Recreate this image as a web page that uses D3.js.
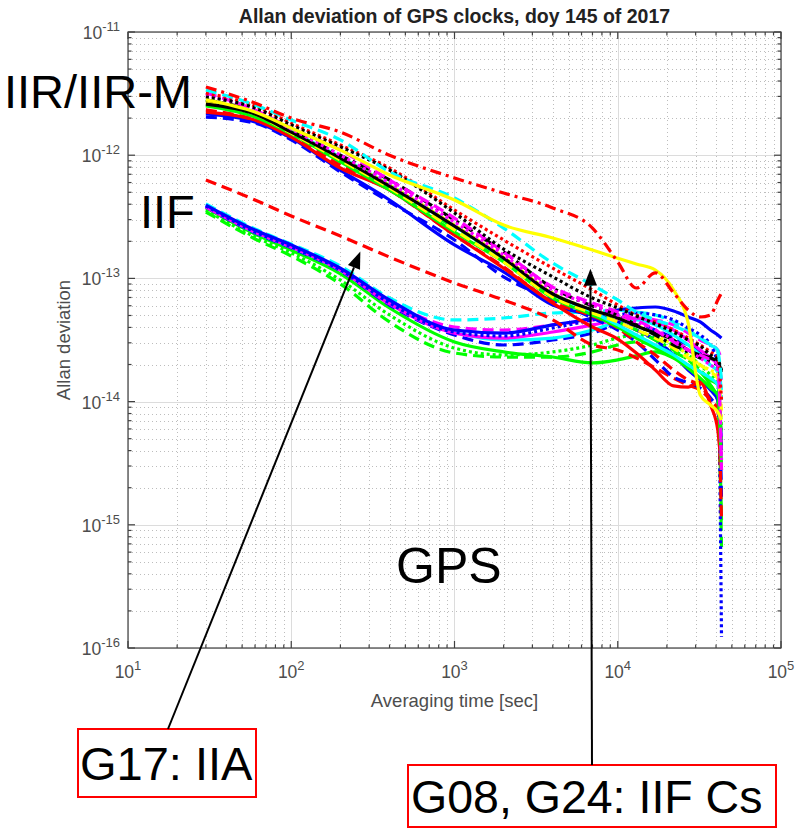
<!DOCTYPE html>
<html>
<head>
<meta charset="utf-8">
<script src="https://cdn.jsdelivr.net/npm/d3@7"></script>
<style>
  body { margin: 0; background: #fff; }
  text { font-family: Arial, "Liberation Sans", sans-serif; }
</style>
</head>
<body>
<div id="chart"></div>
<script>
// Averaging times [sec] shared by every clock curve
var taus = [30, 60, 100, 200, 400, 1000, 2000, 4000, 7000, 10000, 13000, 17000, 22000, 27000, 32000, 37000, 41000, 43200];

// Axis ticks
var xDecades = [1e1, 1e2, 1e3, 1e4, 1e5];
var yDecades = [1e-16, 1e-15, 1e-14, 1e-13, 1e-12, 1e-11];

// --- IIF rubidium clocks (lower bundle) ---
var iifBlue      = [3.94e-13,2.47e-13,1.87e-13,1.21e-13,6.68e-14,3.81e-14,3.60e-14,4.19e-14,4.77e-14,5.54e-14,5.75e-14,5.86e-14,5.44e-14,4.86e-14,4.43e-14,3.81e-14,3.47e-14,3.28e-14];
var iifCyanDash  = [4.02e-13,2.52e-13,1.90e-13,1.26e-13,6.93e-14,4.60e-14,4.77e-14,5.24e-14,5.34e-14,5.54e-14,5.34e-14,5.05e-14,4.43e-14,3.81e-14,3.28e-14,2.88e-14,2.62e-14,1.03e-14];
var iifMagDash   = [3.87e-13,2.42e-13,1.83e-13,1.21e-13,6.56e-14,4.03e-14,3.81e-14,4.19e-14,4.60e-14,4.77e-14,4.77e-14,4.60e-14,4.19e-14,3.60e-14,3.16e-14,2.88e-14,2.62e-14,2.18e-14];
var iifBlueDash  = [3.80e-13,2.34e-13,1.77e-13,1.15e-13,6.08e-14,3.47e-14,2.88e-14,3.16e-14,3.60e-14,4.19e-14,4.19e-14,3.81e-14,3.28e-14,2.88e-14,2.53e-14,2.26e-14,2.10e-14,1.59e-15];
var iifGreen     = [3.73e-13,2.29e-13,1.70e-13,1.09e-13,5.75e-14,3.05e-14,2.53e-14,2.30e-14,2.06e-14,2.18e-14,2.35e-14,2.53e-14,2.26e-14,1.98e-14,1.74e-14,1.36e-14,1.03e-14,1.09e-15];
var iifGreenDash = [3.46e-13,2.09e-13,1.52e-13,9.01e-14,4.43e-14,2.48e-14,2.30e-14,2.30e-14,2.53e-14,2.88e-14,3.05e-14,2.88e-14,2.53e-14,2.18e-14,1.80e-14,1.36e-14,1.03e-14,6.60e-16];
var iifCyan      = [3.87e-13,2.38e-13,1.80e-13,1.17e-13,6.31e-14,3.67e-14,3.16e-14,3.28e-14,3.81e-14,4.43e-14,4.60e-14,4.19e-14,3.47e-14,2.88e-14,2.39e-14,1.98e-14,1.74e-14,1.24e-14];
var iifGreenDot  = [3.59e-13,2.17e-13,1.61e-13,9.70e-14,5.05e-14,2.72e-14,2.39e-14,2.53e-14,2.88e-14,3.28e-14,3.47e-14,3.28e-14,2.88e-14,2.39e-14,1.98e-14,1.64e-14,1.36e-14,5.88e-15];
var iifMagenta   = [3.80e-13,2.38e-13,1.80e-13,1.17e-13,6.20e-14,3.60e-14,3.28e-14,3.67e-14,4.19e-14,4.60e-14,4.77e-14,4.43e-14,3.81e-14,3.16e-14,2.62e-14,2.26e-14,1.98e-14,1.50e-14];
var iifBlueDot   = [3.87e-13,2.38e-13,1.80e-13,1.17e-13,6.31e-14,3.67e-14,3.41e-14,3.96e-14,4.60e-14,5.05e-14,5.24e-14,5.05e-14,4.60e-14,3.96e-14,3.47e-14,2.88e-14,1.98e-14,1.23e-16];

// --- G17, IIA ---
var g17 = [6.29e-13,4.33e-13,3.21e-13,2.21e-13,1.49e-13,9.18e-14,6.68e-14,4.60e-14,2.88e-14,2.62e-14,2.26e-14,1.87e-14,1.55e-14,1.36e-14,1.24e-14,1.03e-14,8.54e-15,4.05e-15];

// --- IIR / IIR-M rubidium clocks (upper bundle) ---
var iirCyanDash  = [3.38e-12,2.56e-12,1.93e-12,1.33e-12,7.31e-13,4.49e-13,2.56e-13,1.33e-13,8.84e-14,6.68e-14,5.34e-14,4.60e-14,4.11e-14,3.67e-14,3.28e-14,2.88e-14,2.53e-14,1.50e-14];
var iirBlackDot  = [2.97e-12,2.42e-12,1.76e-12,1.17e-12,7.58e-13,3.40e-13,1.73e-13,1.03e-13,6.93e-14,5.75e-14,4.95e-14,4.27e-14,3.67e-14,3.16e-14,2.83e-14,2.39e-14,2.18e-14,1.80e-14];
var iirRedDot    = [3.20e-12,2.51e-12,1.82e-12,1.21e-12,7.87e-13,3.59e-13,2.05e-13,1.21e-13,8.05e-14,6.08e-14,5.05e-14,4.43e-14,3.81e-14,3.28e-14,2.88e-14,2.53e-14,2.26e-14,1.03e-14];
var iirMagDash   = [3.20e-12,2.33e-12,1.66e-12,1.10e-12,6.29e-13,3.09e-13,1.64e-13,8.51e-14,6.31e-14,5.34e-14,4.60e-14,3.81e-14,3.05e-14,2.62e-14,2.39e-14,2.18e-14,1.98e-14,2.79e-15];
var iirYellowDot = [2.65e-12,2.20e-12,1.54e-12,9.49e-13,5.73e-13,2.71e-13,1.49e-13,7.61e-14,5.54e-14,4.77e-14,4.19e-14,3.47e-14,2.88e-14,2.39e-14,1.98e-14,1.80e-14,1.64e-14,7.09e-15];
var iirGreenDD   = [2.56e-12,2.12e-12,1.51e-12,9.14e-13,5.52e-13,2.56e-13,1.41e-13,7.33e-14,5.34e-14,4.43e-14,3.81e-14,3.16e-14,2.62e-14,2.18e-14,1.80e-14,1.50e-14,1.36e-14,4.88e-15];
var iirBlackDD   = [2.81e-12,2.24e-12,1.60e-12,1.00e-12,6.29e-13,2.98e-13,1.64e-13,8.36e-14,5.97e-14,5.05e-14,4.19e-14,3.47e-14,2.88e-14,2.53e-14,2.26e-14,2.10e-14,1.98e-14,1.64e-14];
var iirYellowDash= [2.75e-12,2.16e-12,1.51e-12,9.14e-13,5.42e-13,2.47e-13,1.36e-13,7.06e-14,5.24e-14,4.43e-14,3.81e-14,3.28e-14,2.72e-14,2.26e-14,1.98e-14,1.74e-14,1.55e-14,8.54e-15];
var iirCyan      = [2.81e-12,2.20e-12,1.57e-12,9.67e-13,5.73e-13,2.66e-13,1.46e-13,7.47e-14,5.34e-14,4.19e-14,3.47e-14,2.88e-14,2.39e-14,1.98e-14,1.74e-14,1.55e-14,1.36e-14,1.03e-14];
var iirMagDot    = [3.08e-12,2.33e-12,1.63e-12,1.00e-12,5.95e-13,2.87e-13,1.55e-13,8.05e-14,6.08e-14,5.05e-14,4.43e-14,3.81e-14,3.16e-14,2.62e-14,2.26e-14,1.98e-14,1.80e-14,3.36e-15];
var iirRed       = [2.24e-12,1.93e-12,1.40e-12,7.87e-13,5.22e-13,2.25e-13,1.21e-13,6.31e-14,4.03e-14,3.22e-14,2.48e-14,1.80e-14,1.34e-14,1.31e-14,1.44e-14,9.38e-15,5.88e-15,2.79e-15];
var iirBlueDash  = [2.04e-12,1.82e-12,1.33e-12,7.31e-13,4.17e-13,2.05e-13,1.03e-13,6.68e-14,4.77e-14,3.81e-14,3.05e-14,2.18e-14,1.58e-14,1.42e-14,1.29e-14,1.07e-14,8.54e-15,4.05e-15];
var iirRedDash   = [2.33e-12,1.93e-12,1.43e-12,8.33e-13,5.22e-13,2.25e-13,1.24e-13,6.43e-14,4.95e-14,3.96e-14,3.05e-14,2.39e-14,1.80e-14,1.50e-14,1.36e-14,1.03e-14,8.54e-15,1.09e-15];
var iirGreen     = [2.51e-12,2.04e-12,1.49e-12,8.81e-13,5.22e-13,2.38e-13,1.36e-13,6.93e-14,5.05e-14,4.03e-14,3.28e-14,2.72e-14,2.26e-14,1.87e-14,1.55e-14,1.29e-14,1.13e-14,2.79e-15];
var iirBlue      = [2.16e-12,1.86e-12,1.38e-12,7.58e-13,4.33e-13,1.87e-13,1.13e-13,6.08e-14,5.05e-14,4.43e-14,3.81e-14,3.16e-14,2.39e-14,1.80e-14,1.50e-14,1.24e-14,1.03e-14,4.88e-15];
var iirBlack     = [2.60e-12,2.16e-12,1.54e-12,9.49e-13,5.62e-13,2.66e-13,1.46e-13,7.47e-14,5.54e-14,4.77e-14,4.11e-14,3.60e-14,3.16e-14,2.62e-14,2.39e-14,2.26e-14,2.10e-14,1.74e-14];

// --- IIF cesium clocks G08, G24 ---
var g08 = [3.58e-12,2.65e-12,2.00e-12,1.54e-12,1.00e-12,6.53e-13,4.93e-13,3.73e-13,2.56e-13,1.36e-13,8.36e-14,1.11e-13,7.61e-14,5.54e-14,4.86e-14,5.05e-14,6.68e-14,7.61e-14];
var g24 = [2.81e-12,2.24e-12,1.66e-12,1.10e-12,6.91e-13,4.33e-13,2.71e-13,2.13e-13,1.70e-13,1.46e-13,1.31e-13,1.17e-13,8.05e-14,4.35e-14,1.13e-14,9.38e-15,8.23e-15,7.09e-15];

// MATLAB style line specs
var dashes = { "-": null, "--": "11,6", ":": "3,3", "-.": "11,5,3,5" };

var curves = [
  { v: iifGreenDash, c: "#00ff00", s: "--" },
  { v: iifGreenDot,  c: "#00ff00", s: ":" },
  { v: iifGreen,     c: "#00ff00", s: "-" },
  { v: iifBlueDash,  c: "#0000ff", s: "--" },
  { v: iifCyan,      c: "#00ffff", s: "-" },
  { v: iifMagenta,   c: "#ff00ff", s: "-" },
  { v: iifMagDash,   c: "#ff00ff", s: "--" },
  { v: iifCyanDash,  c: "#00ffff", s: "--" },
  { v: iifBlueDot,   c: "#0000ff", s: ":" },
  { v: iifBlue,      c: "#0000ff", s: "-" },
  { v: g17,          c: "#ff0000", s: "--" },
  { v: iirBlue,      c: "#0000ff", s: "-" },
  { v: iirBlueDash,  c: "#0000ff", s: "--" },
  { v: iirRed,       c: "#ff0000", s: "-" },
  { v: iirRedDash,   c: "#ff0000", s: "--" },
  { v: iirGreen,     c: "#00ff00", s: "-" },
  { v: iirGreenDD,   c: "#00ff00", s: "-." },
  { v: iirCyan,      c: "#00ffff", s: "-" },
  { v: iirYellowDash,c: "#ffff00", s: "--" },
  { v: iirYellowDot, c: "#ffff00", s: ":" },
  { v: iirBlack,     c: "#000000", s: "-" },
  { v: iirBlackDD,   c: "#000000", s: "-." },
  { v: iirMagDot,    c: "#ff00ff", s: ":" },
  { v: iirMagDash,   c: "#ff00ff", s: "--" },
  { v: iirRedDot,    c: "#ff0000", s: ":" },
  { v: iirBlackDot,  c: "#000000", s: ":" },
  { v: iirCyanDash,  c: "#00ffff", s: "--" },
  { v: g24,          c: "#ffff00", s: "-" },
  { v: g08,          c: "#ff0000", s: "-." }
];

// Annotation arrow tips, in data coordinates (tau, adev)
var arrowTips = [[265, 1.65e-13], [6800, 1.2e-13]];

var W = 798, H = 829;
var box = { left: 128, right: 781, top: 32, bottom: 648 };

var svg = d3.select("#chart").append("svg")
    .attr("width", W).attr("height", H);

var x = d3.scaleLog().domain([1e1, 1e5]).range([box.left, box.right]);
var y = d3.scaleLog().domain([1e-16, 1e-11]).range([box.bottom, box.top]);

function minors(decades) {
  var out = [];
  decades.slice(0, -1).forEach(function(d) {
    for (var k = 2; k <= 9; k++) out.push(k * d);
  });
  return out;
}
var xMinor = minors(xDecades), yMinor = minors(yDecades);

// grid
var grid = svg.append("g");
grid.selectAll(".xm").data(xMinor).enter().append("line")
    .attr("x1", d => Math.round(x(d)) + 0.5).attr("x2", d => Math.round(x(d)) + 0.5)
    .attr("y1", box.top).attr("y2", box.bottom)
    .attr("stroke", "#bdbdbd").attr("stroke-dasharray", "1,3");
grid.selectAll(".ym").data(yMinor).enter().append("line")
    .attr("y1", d => Math.round(y(d)) + 0.5).attr("y2", d => Math.round(y(d)) + 0.5)
    .attr("x1", box.left).attr("x2", box.right)
    .attr("stroke", "#bdbdbd").attr("stroke-dasharray", "1,3");
grid.selectAll(".xM").data(xDecades).enter().append("line")
    .attr("x1", d => Math.round(x(d)) + 0.5).attr("x2", d => Math.round(x(d)) + 0.5)
    .attr("y1", box.top).attr("y2", box.bottom)
    .attr("stroke", "#dcdcdc");
grid.selectAll(".yM").data(yDecades).enter().append("line")
    .attr("y1", d => Math.round(y(d)) + 0.5).attr("y2", d => Math.round(y(d)) + 0.5)
    .attr("x1", box.left).attr("x2", box.right)
    .attr("stroke", "#dcdcdc");

// curves
svg.append("clipPath").attr("id", "plotclip").append("rect")
    .attr("x", box.left).attr("y", box.top)
    .attr("width", box.right - box.left).attr("height", box.bottom - box.top);

var line = d3.line()
    .x(function(d, i) { return x(taus[i]); })
    .y(function(d) { return y(d); })
    .curve(d3.curveMonotoneX);

svg.append("g").attr("clip-path", "url(#plotclip)")
  .selectAll("path").data(curves).enter().append("path")
    .attr("d", d => line(d.v))
    .attr("fill", "none")
    .attr("stroke", d => d.c)
    .attr("stroke-width", 3.2)
    .attr("stroke-linejoin", "round")
    .attr("stroke-dasharray", d => dashes[d.s]);

// axes box with inward ticks on all sides
var axisCol = "#404040";
var ax = svg.append("g").attr("stroke", axisCol).attr("stroke-width", 1.2);
ax.append("rect")
    .attr("x", box.left).attr("y", box.top)
    .attr("width", box.right - box.left).attr("height", box.bottom - box.top)
    .attr("fill", "none");

function xTicks(vals, len) {
  vals.forEach(function(d) {
    var px = x(d);
    ax.append("line").attr("x1", px).attr("x2", px).attr("y1", box.bottom).attr("y2", box.bottom - len);
    ax.append("line").attr("x1", px).attr("x2", px).attr("y1", box.top).attr("y2", box.top + len);
  });
}
function yTicks(vals, len) {
  vals.forEach(function(d) {
    var py = y(d);
    ax.append("line").attr("y1", py).attr("y2", py).attr("x1", box.left).attr("x2", box.left + len);
    ax.append("line").attr("y1", py).attr("y2", py).attr("x1", box.right).attr("x2", box.right - len);
  });
}
xTicks(xDecades, 7); xTicks(xMinor, 3.5);
yTicks(yDecades, 7); yTicks(yMinor, 3.5);

// tick labels: 10 with superscript exponent
function powLabel(sel, d) {
  var e = Math.round(Math.log10(d));
  sel.append("tspan").text("10");
  sel.append("tspan").attr("dy", -8).attr("font-size", 13).text(e);
}
svg.append("g").selectAll("text").data(xDecades).enter().append("text")
    .attr("x", d => x(d)).attr("y", 678)
    .attr("text-anchor", "middle").attr("font-size", 17.5).attr("fill", "#4d4d4d")
    .each(function(d) { powLabel(d3.select(this), d); });
svg.append("g").selectAll("text").data(yDecades).enter().append("text")
    .attr("x", 120).attr("y", d => y(d) + 7)
    .attr("text-anchor", "end").attr("font-size", 17.5).attr("fill", "#4d4d4d")
    .each(function(d) { powLabel(d3.select(this), d); });

// axis labels and title
svg.append("text")
    .attr("x", (box.left + box.right) / 2).attr("y", 707)
    .attr("text-anchor", "middle").attr("font-size", 18.5).attr("fill", "#4d4d4d")
    .text("Averaging time [sec]");
svg.append("text")
    .attr("transform", "translate(70," + (box.top + box.bottom) / 2 + ") rotate(-90)")
    .attr("text-anchor", "middle").attr("font-size", 18.5).attr("fill", "#4d4d4d")
    .text("Allan deviation");
svg.append("text")
    .attr("x", (box.left + box.right) / 2).attr("y", 23)
    .attr("text-anchor", "middle").attr("font-size", 19.5).attr("font-weight", "bold")
    .attr("fill", "#222")
    .text("Allan deviation of GPS clocks, doy 145 of 2017");

// annotations
var ann = svg.append("g").attr("font-size", 47).attr("fill", "#000");
ann.append("text").attr("x", 4).attr("y", 108).text("IIR/IIR-M");
ann.append("text").attr("x", 140).attr("y", 228).text("IIF");
ann.append("text").attr("x", 396).attr("y", 583).attr("font-size", 50).text("GPS");

ann.append("rect").attr("x", 78).attr("y", 729).attr("width", 178).attr("height", 68)
    .attr("fill", "#fff").attr("stroke", "#ff0000").attr("stroke-width", 2);
ann.append("text").attr("x", 80).attr("y", 780).text("G17: IIA");
ann.append("rect").attr("x", 408).attr("y", 765).attr("width", 368).attr("height", 62)
    .attr("fill", "#fff").attr("stroke", "#ff0000").attr("stroke-width", 2);
ann.append("text").attr("x", 411).attr("y", 813).attr("font-size", 46.5).text("G08, G24: IIF Cs");

function arrow(x0, y0, tip) {
  var x1 = x(tip[0]), y1 = y(tip[1]);
  var ang = Math.atan2(y1 - y0, x1 - x0), L = 17, hw = 6.5;
  var bx = x1 - L * Math.cos(ang), by = y1 - L * Math.sin(ang);
  svg.append("line").attr("x1", x0).attr("y1", y0).attr("x2", bx).attr("y2", by)
      .attr("stroke", "#000").attr("stroke-width", 2);
  var px = -Math.sin(ang) * hw, py = Math.cos(ang) * hw;
  svg.append("path")
      .attr("d", "M" + x1 + "," + y1 + "L" + (bx + px) + "," + (by + py) + "L" + (bx - px) + "," + (by - py) + "Z")
      .attr("fill", "#000");
}
arrow(168, 729, arrowTips[0]);
arrow(592, 765, arrowTips[1]);
</script>
</body>
</html>
